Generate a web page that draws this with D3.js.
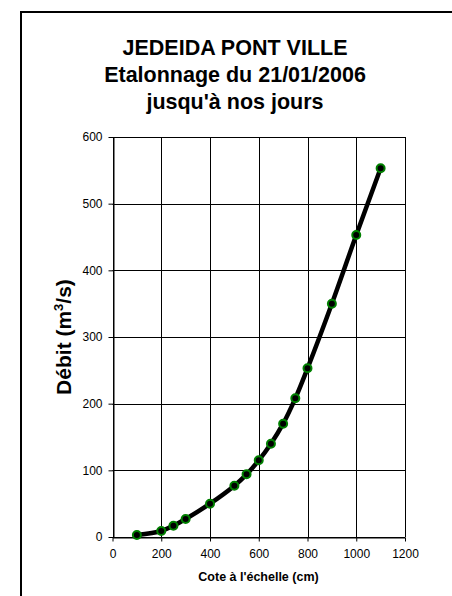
<!DOCTYPE html>
<html>
<head>
<meta charset="utf-8">
<script src="https://cdn.jsdelivr.net/npm/d3@7"></script>
<style>
  html, body { margin: 0; padding: 0; background: #fff; overflow: hidden; }
  svg { display: block; font-family: "Liberation Sans", Arial, sans-serif; }
</style>
</head>
<body>
<div id="chart"></div>
<script>
// rating curve points (stage in cm, discharge in m3/s)
const cote = [100, 200, 250, 300, 400, 500, 550, 600, 650, 700, 750, 800, 900, 1000, 1100];
const debit = [3, 9, 17, 27, 50, 77, 94, 115, 140, 170, 208, 253, 350, 453, 553];
const xTicks = [0, 200, 400, 600, 800, 1000, 1200];
const yTicks = [0, 100, 200, 300, 400, 500, 600];
const titleLines = ["JEDEIDA PONT VILLE", "Etalonnage du 21/01/2006", "jusqu'à nos jours"];

const width = 452, height = 596;
const margin = { top: 137, right: 47, bottom: 59, left: 112.5 };

const points = cote.map((c, i) => ({ x: c, y: debit[i] }));

const svg = d3.select("#chart").append("svg")
  .attr("width", width)
  .attr("height", height);

// outer chart border: only top and left edges fall inside the picture
svg.append("path")
  .attr("d", `M21,${height}V12H${width}`)
  .attr("fill", "none")
  .attr("stroke", "#000")
  .attr("stroke-width", 2);

const x = d3.scaleLinear()
  .domain([0, 1200])
  .range([margin.left, width - margin.right]);

const y = d3.scaleLinear()
  .domain([0, 600])
  .range([height - margin.bottom, margin.top]);

// title
const title = svg.append("text")
  .attr("text-anchor", "middle")
  .attr("font-weight", "bold")
  .attr("font-size", "21.5px");
titleLines.forEach((t, i) => {
  title.append("tspan")
    .attr("x", 235)
    .attr("y", 55 + i * 27)
    .text(t);
});

// gridlines
svg.append("g")
  .selectAll("line")
  .data(xTicks)
  .join("line")
  .attr("x1", d => Math.round(x(d)) + 0.5)
  .attr("x2", d => Math.round(x(d)) + 0.5)
  .attr("y1", y(0))
  .attr("y2", y(600))
  .attr("stroke", "#000")
  .attr("stroke-width", 1);

svg.append("g")
  .selectAll("line")
  .data(yTicks)
  .join("line")
  .attr("x1", x(0))
  .attr("x2", x(1200))
  .attr("y1", d => Math.round(y(d)) + 0.5)
  .attr("y2", d => Math.round(y(d)) + 0.5)
  .attr("stroke", "#000")
  .attr("stroke-width", 1);

// axes
const fmt = d3.format("d");
const xAxis = svg.append("g")
  .attr("transform", `translate(0,${Math.round(y(0)) + 0.5})`)
  .call(d3.axisBottom(x).tickValues(xTicks).tickFormat(fmt).tickSize(4).tickPadding(8).tickSizeOuter(0));

const yAxis = svg.append("g")
  .attr("transform", `translate(${Math.round(x(0)) + 0.5},0)`)
  .call(d3.axisLeft(y).tickValues(yTicks).tickFormat(fmt).tickSize(5).tickPadding(6).tickSizeOuter(0));

[xAxis, yAxis].forEach(g => {
  g.select(".domain").attr("stroke", "#000");
  g.selectAll(".tick line").attr("stroke", "#000");
  g.selectAll(".tick text")
    .attr("font-family", "Liberation Sans, Arial, sans-serif")
    .attr("font-size", "12px")
    .attr("fill", "#000");
});

// axis titles
svg.append("text")
  .attr("x", 258.5)
  .attr("y", 581)
  .attr("text-anchor", "middle")
  .attr("font-weight", "bold")
  .attr("font-size", "12.5px")
  .text("Cote à l'échelle (cm)");

const yLabel = svg.append("text")
  .attr("transform", "translate(71,337) rotate(-90)")
  .attr("text-anchor", "middle")
  .attr("font-weight", "bold")
  .attr("font-size", "21px");
yLabel.append("tspan").text("Débit (m");
yLabel.append("tspan").attr("font-size", "13px").attr("dy", -8).text("3");
yLabel.append("tspan").attr("dy", 8).text("/s)");

// curve
const line = d3.line()
  .x(d => x(d.x))
  .y(d => y(d.y))
  .curve(d3.curveCatmullRom.alpha(0.5));

svg.append("path")
  .datum(points)
  .attr("d", line)
  .attr("fill", "none")
  .attr("stroke", "#000")
  .attr("stroke-width", 4.5)
  .attr("stroke-linejoin", "round");

svg.append("g")
  .selectAll("circle")
  .data(points)
  .join("circle")
  .attr("cx", d => x(d.x))
  .attr("cy", d => y(d.y))
  .attr("r", 4)
  .attr("fill", "#000")
  .attr("stroke", "#008000")
  .attr("stroke-width", 2);
</script>
</body>
</html>
